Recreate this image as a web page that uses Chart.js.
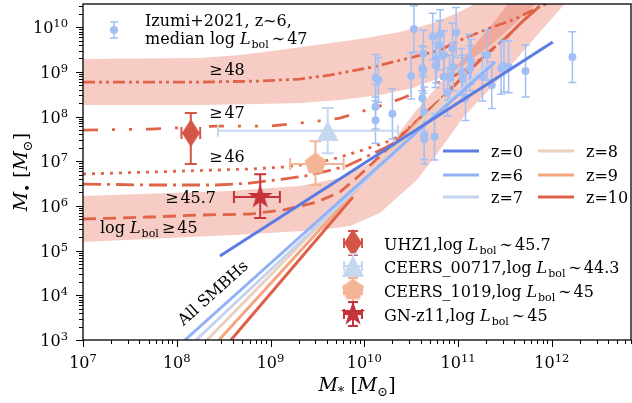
<!DOCTYPE html>
<html>
<head>
<meta charset="utf-8">
<script src="https://cdn.jsdelivr.net/npm/chart.js@4.4.0/dist/chart.umd.min.js"></script>
<style>
  html, body { margin: 0; padding: 0; background: #fff; }
</style>
</head>
<body>
<canvas id="bhChart" width="632" height="403"></canvas>
<script>
// all masses in log10(M/Msun)

// Izumi+2021 z~6 quasars
const izumiLogMstar = [10.12, 10.15, 10.12, 10.12, 10.30, 10.53, 10.50, 10.63, 10.63, 10.62, 10.62, 10.64, 10.64, 10.64,
  10.75, 10.73, 10.81, 10.80, 10.77, 10.76, 10.85, 10.85, 10.89, 10.91, 10.94, 10.95, 10.98, 11.04, 11.05, 11.08,
  11.12, 11.14, 11.13, 11.26, 11.31, 11.36, 11.46, 11.49, 11.54, 11.72, 12.22];
const izumiLogMbh = [8.87, 8.82, 8.22, 7.92, 8.06, 9.96, 8.91, 9.41, 9.04, 9.08, 8.41, 8.11, 7.59, 7.49,
  7.55, 9.79, 9.84, 9.60, 9.30, 9.15, 9.38, 8.89, 8.55, 8.87, 9.53, 9.11, 9.88, 9.00, 8.85, 8.43,
  9.28, 9.23, 9.08, 8.89, 9.38, 8.70, 9.08, 9.13, 9.11, 9.02, 9.33];
const izumiErr = [0.52, 0.50, 0.50, 0.52, 0.56, 0.52, 0.52, 0.52, 0.52, 0.50, 0.52, 0.55, 0.55, 0.55,
  0.52, 0.52, 0.55, 0.55, 0.55, 0.50, 0.54, 0.52, 0.54, 0.50, 0.56, 0.54, 0.56, 0.52, 0.52, 0.52,
  0.56, 0.50, 0.50, 0.54, 0.56, 0.52, 0.58, 0.58, 0.58, 0.58, 0.57];

// JWST AGN
const jwstNames = ['UHZ1', 'CEERS_00717', 'CEERS_1019', 'GN-z11'];
const jwstLbol = ['45.7', '44.3', '45', '45'];
const jwstLogMstar = [8.15, 9.61, 9.48, 8.89];
const jwstLogMbh = [7.63, 7.68, 6.94, 6.20];
const jwstMstarLo = [0.10, 1.17, 0.27, 0.28];
const jwstMstarHi = [0.10, 0.75, 0.30, 0.21];
const jwstMbhLo = [0.69, 0.50, 0.47, 0.47];
const jwstMbhHi = [0.45, 0.51, 0.51, 0.51];

// M_BH - M_* relation of all SMBHs
const zLabels = ['z=0', 'z=6', 'z=7', 'z=8', 'z=9', 'z=10'];
const zLogMstar = [[8.461, 12.011], [8.087, 11.392], [8.205, 11.318], [8.322, 10.859], [8.450, 10.593], [8.578, 9.878]];
const zLogMbh = [[4.879, 9.667], [3.0, 9.219], [3.0, 9.152], [3.0, 8.436], [3.0, 7.922], [3.0, 6.199]];

// median M_BH above each log L_bol cut; shared high-mass track
const tailLogMstar = [10.987, 11.158, 11.339, 11.520, 11.691, 11.872];
const tailLogMbh = [8.749, 9.107, 9.465, 9.779, 10.136, 10.472];

const cut48Mstar = [7.00, 8.247, 8.887, 9.313, 9.633, 10.092, 10.518, 10.806, 11.073, 11.339, 11.606, 11.840, 11.957];
const cut48Mbh = [8.772, 8.772, 8.794, 8.839, 8.928, 9.107, 9.331, 9.488, 9.756, 9.980, 10.181, 10.427, 10.539];
const cut47Mstar = [7.00, 7.714, 8.429, 8.994, 9.505, 9.740, 9.953, 10.198, 10.412, 10.699, 10.913, 11.126, 11.339, 11.520, 11.691, 11.872];
const cut47Mbh = [7.698, 7.720, 7.787, 7.787, 7.899, 7.966, 8.101, 8.257, 8.414, 8.682, 8.861, 9.107, 9.443, 9.779, 10.136, 10.472];
const cut46Mstar = [7.00, 7.714, 8.780, 9.132, 9.495, 9.708, 9.985, 10.241, 10.380, 10.593, 10.806];
const cut46Mbh = [6.714, 6.758, 6.826, 6.870, 6.960, 7.072, 7.251, 7.430, 7.564, 7.966, 8.369];
const cut457Mstar = [7.00, 7.714, 8.429, 8.780, 9.132, 9.367, 9.601, 9.814, 10.060, 10.241, 10.380, 10.593, 10.806];
const cut457Mbh = [6.490, 6.468, 6.468, 6.512, 6.602, 6.669, 6.781, 6.893, 7.139, 7.318, 7.519, 7.944, 8.369];
const cut45Mstar = [7.00, 7.714, 8.247, 8.780, 9.132, 9.495, 9.740, 9.953, 10.166, 10.380, 10.593, 10.806];
const cut45Mbh = [5.707, 5.752, 5.796, 5.819, 5.908, 6.087, 6.311, 6.691, 7.116, 7.541, 7.966, 8.369];

// scatter bands (upper / lower edges)
const band48TopMstar = [7.00, 8.247, 8.674, 9.100, 9.484, 9.953, 10.380, 10.699, 10.966, 11.179, 11.286];
const band48TopMbh = [9.286, 9.309, 9.376, 9.488, 9.600, 9.734, 9.890, 10.069, 10.293, 10.517, 10.651];
const band48BotMstar = [7.00, 8.247, 8.887, 9.313, 9.740, 10.166, 10.518, 10.806, 11.073, 11.339, 11.606, 11.872, 11.957];
const band48BotMbh = [8.257, 8.257, 8.280, 8.302, 8.369, 8.481, 8.638, 8.861, 9.174, 9.577, 10.069, 10.606, 10.718];
const band45TopMstar = [7.00, 8.567, 9.313, 9.740, 10.060, 10.220, 10.380, 10.539, 10.699, 10.859, 11.019, 11.179, 11.339, 11.499, 11.574];
const band45TopMbh = [6.221, 6.333, 6.445, 6.624, 6.960, 7.251, 7.653, 8.101, 8.481, 8.861, 9.219, 9.600, 10.002, 10.427, 10.651];
const band45BotMstar = [7.00, 8.599, 9.527, 9.846, 10.166, 10.561, 10.806, 11.051, 11.446, 11.819, 12.192];
const band45BotMbh = [5.192, 5.349, 5.461, 5.550, 5.841, 6.579, 7.251, 7.966, 8.861, 9.756, 10.651];

const xTickExp = [7, 8, 9, 10, 11, 12];
const yTickExp = [3, 4, 5, 6, 7, 8, 9, 10];

const SERIF = '"DejaVu Serif", "DejaVu Sans", serif';
const font = (size, style) => (style ? style + ' ' : '') + size + 'px ' + SERIF;
const medColor = '#df6448';
const bandColor = 'rgba(230, 110, 85, 0.35)';
const izumiColor = '#a2bff5';
const zColors = ['#5b7ce4', '#91b2f5', '#c5d4ee', '#ecd0be', '#f5a582', '#de6048'];
const jwstColors = ['#d55546', '#c6d7f0', '#f4b596', '#c4343a'];

const pts = (lx, ly) => lx.map((v, i) => ({ x: 10 ** v, y: 10 ** ly[i] }));

function makeMarker(kind, color, w, h) {
    const c = document.createElement('canvas');
    c.width = w; c.height = h;
    const g = c.getContext('2d');
    g.fillStyle = color;
    g.beginPath();
    const cx = w / 2, cy = h / 2;
    if (kind === 'diamond') {
        g.moveTo(cx, 0); g.lineTo(w, cy); g.lineTo(cx, h); g.lineTo(0, cy);
    } else if (kind === 'triangle') {
        g.moveTo(cx, 0); g.lineTo(w, h); g.lineTo(0, h);
    } else {
        const n = kind === 'star' ? 10 : 5;
        const R = Math.min(w, h) / 2;
        for (let i = 0; i < n; i++) {
            const r = (kind === 'star' && i % 2) ? R * 0.382 : R;
            const a = (-90 + i * 360 / n) * Math.PI / 180;
            const px = cx + r * Math.cos(a), py = cy + r * Math.sin(a);
            if (i === 0) g.moveTo(px, py); else g.lineTo(px, py);
        }
    }
    g.closePath();
    g.fill();
    return c;
}

const jwstMarkers = [
    makeMarker('diamond', jwstColors[0], 18, 28),
    makeMarker('triangle', jwstColors[1], 22, 21),
    makeMarker('pentagon', jwstColors[2], 23, 23),
    makeMarker('star', jwstColors[3], 26, 26)
];

function band(topX, topY, botX, botY) {
    return pts(topX, topY).concat(pts(botX, botY).reverse());
}

const datasets = [];

// shaded scatter bands
[[band48TopMstar, band48TopMbh, band48BotMstar, band48BotMbh],
 [band45TopMstar, band45TopMbh, band45BotMstar, band45BotMbh]].forEach(b => {
    datasets.push({
        data: band(...b), showLine: true, fill: 'shape', backgroundColor: bandColor,
        borderColor: 'rgba(0,0,0,0)', borderWidth: 0, pointRadius: 0, order: 9
    });
});

// median curves for each luminosity cut
const cuts = [
    [cut48Mstar, cut48Mbh, [12, 4, 3, 4, 3, 4], false],
    [cut47Mstar, cut47Mbh, [15, 14, 3, 14, 3, 14], false],
    [cut46Mstar, cut46Mbh, [3, 6], true],
    [cut457Mstar, cut457Mbh, [18, 6, 3, 6], true],
    [cut45Mstar, cut45Mbh, [13, 7], true]
];
cuts.forEach(([lx, ly, dash, withTail]) => {
    const data = pts(lx, ly).concat(withTail ? pts(tailLogMstar, tailLogMbh) : []);
    datasets.push({
        data, showLine: true, fill: false, borderColor: medColor, borderWidth: 2.8,
        borderDash: dash, pointRadius: 0, order: 7
    });
});

// Izumi quasars with error bars
datasets.push({
    label: 'Izumi', data: pts(izumiLogMstar, izumiLogMbh), showLine: false,
    pointRadius: 4, backgroundColor: izumiColor, borderWidth: 0, order: 5,
    errors: izumiErr.map(e => ({ xlo: 0, xhi: 0, ylo: e, yhi: e })),
    errColor: izumiColor, errWidth: 1.5, cap: 4
});

// M_BH - M_* relations
zLabels.forEach((lab, i) => {
    datasets.push({
        label: lab, data: pts(zLogMstar[i], zLogMbh[i]), showLine: true, fill: false,
        borderColor: zColors[i], borderWidth: 3, pointRadius: 0, order: i === 0 ? 2 : 3
    });
});

// JWST sources
jwstNames.forEach((name, i) => {
    datasets.push({
        label: name, data: pts([jwstLogMstar[i]], [jwstLogMbh[i]]), showLine: false,
        pointStyle: jwstMarkers[i], pointRadius: 10, order: 1,
        errors: [{ xlo: jwstMstarLo[i], xhi: jwstMstarHi[i], ylo: jwstMbhLo[i], yhi: jwstMbhHi[i] }],
        errColor: jwstColors[i], errWidth: 2, cap: 6
    });
});

function drawRich(ctx, x, y, parts, align) {
    let w = 0;
    parts.forEach(p => { ctx.font = p[1]; w += ctx.measureText(p[0]).width + (p[3] || 0); });
    let cx = align === 'center' ? x - w / 2 : align === 'right' ? x - w : x;
    parts.forEach(p => {
        ctx.font = p[1];
        cx += (p[3] || 0);
        ctx.fillText(p[0], cx, y + (p[2] || 0));
        cx += ctx.measureText(p[0]).width;
    });
}

// "log L_bol <rel> <val>" in math style
const lbol = (rel, val) => [['log', font(16)], ['L', font(16, 'italic'), 0, 5],
    ['bol', font(11), 4, 1], [rel, font(16), 0, 3], [val, font(16), 0, 2]];

function errCross(ctx, x, y, xl, xr, yt, yb, cap) {
    ctx.beginPath();
    if (xr - xl > 0.5) {
        ctx.moveTo(xl, y); ctx.lineTo(xr, y);
        ctx.moveTo(xl, y - cap); ctx.lineTo(xl, y + cap);
        ctx.moveTo(xr, y - cap); ctx.lineTo(xr, y + cap);
    }
    ctx.moveTo(x, yt); ctx.lineTo(x, yb);
    ctx.moveTo(x - cap, yt); ctx.lineTo(x + cap, yt);
    ctx.moveTo(x - cap, yb); ctx.lineTo(x + cap, yb);
    ctx.stroke();
}

const errorBars = {
    id: 'errorBars',
    beforeDatasetDraw(chart, args) {
        const ds = chart.data.datasets[args.index];
        if (!ds.errors) return;
        const { ctx, chartArea: a } = chart;
        const X = chart.scales.x, Y = chart.scales.y;
        ctx.save();
        ctx.beginPath(); ctx.rect(a.left, a.top, a.right - a.left, a.bottom - a.top); ctx.clip();
        ctx.strokeStyle = ds.errColor;
        ctx.lineWidth = ds.errWidth;
        ds.data.forEach((p, i) => {
            const e = ds.errors[i];
            const lx = Math.log10(p.x), ly = Math.log10(p.y);
            errCross(ctx, X.getPixelForValue(p.x), Y.getPixelForValue(p.y),
                X.getPixelForValue(10 ** (lx - e.xlo)), X.getPixelForValue(10 ** (lx + e.xhi)),
                Y.getPixelForValue(10 ** (ly + e.yhi)), Y.getPixelForValue(10 ** (ly - e.ylo)), ds.cap);
        });
        ctx.restore();
    }
};

const frame = {
    id: 'frame',
    afterDraw(chart) {
        const { ctx, chartArea: a } = chart;
        const X = chart.scales.x, Y = chart.scales.y;
        ctx.save();
        ctx.fillStyle = '#000';
        ctx.strokeStyle = '#000';

        // ticks
        ctx.lineWidth = 1;
        ctx.beginPath();
        for (let e = 7; e <= 12; e++) {
            for (let m = 1; m < 10; m++) {
                const v = m * 10 ** e;
                if (v > X.max) break;
                const px = Math.round(X.getPixelForValue(v)) + 0.5;
                ctx.moveTo(px, a.bottom); ctx.lineTo(px, a.bottom + (m === 1 ? 7 : 4));
            }
        }
        for (let e = 3; e <= 10; e++) {
            for (let m = 1; m < 10; m++) {
                const v = m * 10 ** e;
                if (v > Y.max) break;
                const py = Math.round(Y.getPixelForValue(v)) + 0.5;
                ctx.moveTo(a.left, py); ctx.lineTo(a.left - (m === 1 ? 7 : 4), py);
            }
        }
        ctx.stroke();

        // spines
        ctx.lineWidth = 1.3;
        ctx.strokeRect(a.left, a.top, a.right - a.left, a.bottom - a.top);

        // tick labels
        ctx.textBaseline = 'alphabetic';
        xTickExp.forEach(e => {
            drawRich(ctx, X.getPixelForValue(10 ** e), a.bottom + 28,
                [['10', font(16)], [String(e), font(11.5), -6]], 'center');
        });
        yTickExp.forEach(e => {
            drawRich(ctx, 68, Y.getPixelForValue(10 ** e) + 6,
                [['10', font(16)], [String(e), font(11.5), -6]], 'right');
        });

        // axis titles
        drawRich(ctx, (a.left + a.right) / 2, 391,
            [['M', font(19, 'italic')], ['*', font(13), 5], [' [', font(19)], ['M', font(19, 'italic')],
             ['⊙', font(13), 5], [']', font(19)]], 'center');
        ctx.save();
        ctx.translate(20, (a.top + a.bottom) / 2);
        ctx.rotate(-Math.PI / 2);
        drawRich(ctx, 0, 7,
            [['M', font(19, 'italic')], ['•', font(13), 5], [' [', font(19)], ['M', font(19, 'italic')],
             ['⊙', font(13), 5], [']', font(19)]], 'center');
        ctx.restore();

        // labels of the luminosity cuts
        drawRich(ctx, 209, 75, [['≥', font(16)], ['48', font(16), 0, 2]]);
        drawRich(ctx, 209, 118, [['≥', font(16)], ['47', font(16), 0, 2]]);
        drawRich(ctx, 209, 162, [['≥', font(16)], ['46', font(16), 0, 2]]);
        drawRich(ctx, 165, 203, [['≥', font(16)], ['45.7', font(16), 0, 2]]);
        drawRich(ctx, 100, 233, lbol('≥', '45'));

        ctx.save();
        ctx.translate(213, 293);
        ctx.rotate(-42 * Math.PI / 180);
        ctx.font = font(16);
        ctx.textAlign = 'center';
        ctx.fillText('All SMBHs', 0, 5);
        ctx.restore();

        // Izumi legend
        ctx.strokeStyle = izumiColor;
        ctx.fillStyle = izumiColor;
        ctx.lineWidth = 1.5;
        errCross(ctx, 114, 30, 114, 114, 22, 38, 4);
        ctx.beginPath(); ctx.arc(114, 30, 4, 0, 2 * Math.PI); ctx.fill();
        ctx.fillStyle = '#000';
        drawRich(ctx, 145, 26, [['Izumi+2021, z~6,', font(16)]]);
        drawRich(ctx, 145, 44, [['median ', font(16)]].concat(lbol('∼', '47')));

        // redshift legend
        const zRows = [151, 175, 197];
        zLabels.forEach((lab, i) => {
            const col = Math.floor(i / 3), row = i % 3;
            const x0 = col ? 538 : 443;
            ctx.strokeStyle = zColors[i];
            ctx.lineWidth = 3;
            ctx.beginPath(); ctx.moveTo(x0, zRows[row]); ctx.lineTo(x0 + 36, zRows[row]); ctx.stroke();
            ctx.fillStyle = '#000';
            drawRich(ctx, x0 + 48, zRows[row] + 6, [[lab, font(16)]]);
        });

        // JWST legend
        const jRows = [250, 273, 297, 321];
        jwstNames.forEach((name, i) => {
            const cy = jRows[i] - 7, cx = 353;
            ctx.strokeStyle = jwstColors[i];
            ctx.lineWidth = 2;
            errCross(ctx, cx, cy, cx - 9, cx + 9, cy - 12, cy + 12, 5);
            const m = jwstMarkers[i];
            ctx.drawImage(m, cx - m.width / 2, cy - m.height / 2);
            ctx.fillStyle = '#000';
            drawRich(ctx, 384, jRows[i], [[name + ',', font(16)]].concat(lbol('∼', jwstLbol[i])));
        });
        ctx.restore();
    }
};

new Chart(document.getElementById('bhChart'), {
    type: 'scatter',
    data: { datasets },
    options: {
        responsive: false,
        animation: false,
        devicePixelRatio: 1,
        events: [],
        layout: { autoPadding: false, padding: { top: 4, right: 1, left: 0, bottom: 0 } },
        plugins: { legend: { display: false }, tooltip: { enabled: false } },
        scales: {
            x: {
                type: 'logarithmic', min: 1e7, max: 7e12,
                grid: { display: false }, border: { display: false }, ticks: { display: false },
                afterFit: s => { s.height = 63; }
            },
            y: {
                type: 'logarithmic', min: 1e3, max: 3.3e10,
                grid: { display: false }, border: { display: false }, ticks: { display: false },
                afterFit: s => { s.width = 83; }
            }
        }
    },
    plugins: [errorBars, frame]
});
</script>
</body>
</html>
